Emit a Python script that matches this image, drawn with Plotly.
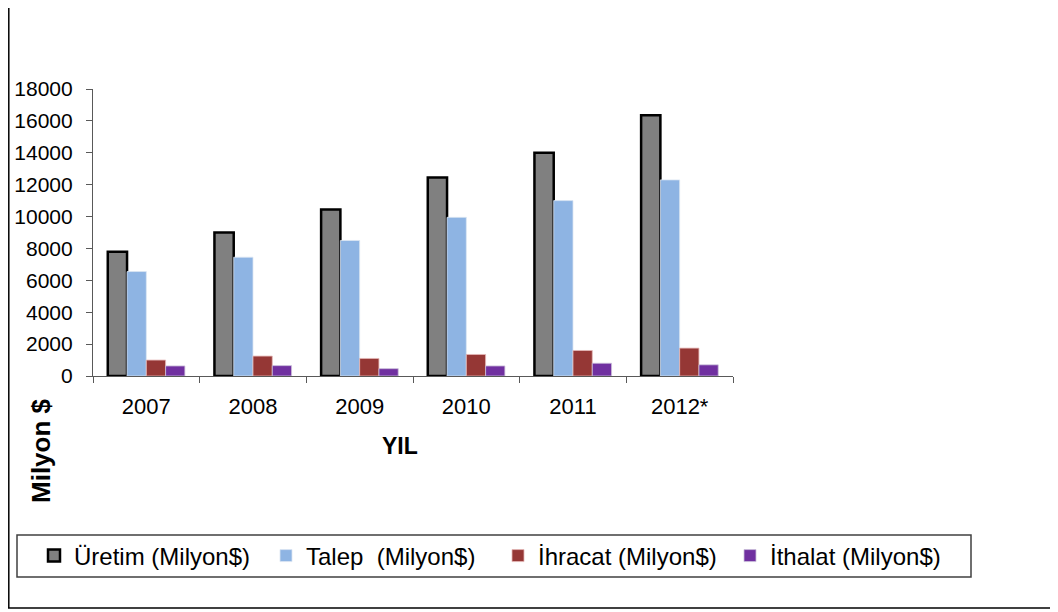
import plotly.graph_objects as go

years = ["2007", "2008", "2009", "2010", "2011", "2012*"]
uretim = [7800, 9000, 10450, 12450, 14000, 16350]
talep = [6550, 7450, 8500, 9950, 11000, 12300]
ihracat = [1000, 1250, 1100, 1350, 1600, 1750]
ithalat = [630, 650, 460, 630, 800, 700]

# page has an 8px body margin; work in page coordinates and convert
OFF = 8
W, H = 1058 - OFF, 612 - OFF
PL, PR, PT, PB = 93, 733, 89, 376          # plot area in page pixels
L, R, T, B = PL - OFF, (1058 - PR), PT - OFF, (612 - PB)
FONT = "Arial, Liberation Sans, sans-serif"

fig = go.Figure()
fig.add_trace(go.Bar(x=years, y=uretim, name="Üretim (Milyon$)",
                     marker=dict(color="#808080", line=dict(color="#000000", width=2.5))))
fig.add_trace(go.Bar(x=years, y=talep, name="Talep\u00a0 (Milyon$)",
                     marker=dict(color="#8EB4E3", line=dict(color="#DCE6F2", width=0.8))))
fig.add_trace(go.Bar(x=years, y=ihracat, name="İhracat (Milyon$)",
                     marker=dict(color="#953735", line=dict(color="#E6B9B8", width=0.8))))
fig.add_trace(go.Bar(x=years, y=ithalat, name="İthalat (Milyon$)",
                     marker=dict(color="#7030A0", line=dict(color="#CCC1DA", width=0.8))))

pw, ph = PR - PL, PB - PT
def px_x(px):
    return (px - PL) / pw
def px_y(py):
    return (PB - py) / ph

shapes = [
    dict(type="line", xref="paper", yref="paper", x0=px_x(8.8), x1=px_x(8.8), y0=px_y(8), y1=px_y(608),
         line=dict(color="#000000", width=1.5)),
    dict(type="line", xref="paper", yref="paper", x0=px_x(8), x1=px_x(1058), y0=px_y(608), y1=px_y(608),
         line=dict(color="#000000", width=1.5)),
    dict(type="rect", xref="paper", yref="paper", x0=px_x(17), x1=px_x(971), y0=px_y(535), y1=px_y(577),
         line=dict(color="#404040", width=1.5)),
]

fig.update_layout(
    width=W, height=H,
    margin=dict(l=L, r=R, t=T, b=B, autoexpand=False),
    paper_bgcolor="white", plot_bgcolor="white",
    barmode="group", bargap=0.277, bargroupgap=0,
    font=dict(family=FONT, color="#000000", size=21),
    showlegend=True,
    legend=dict(orientation="h", xref="paper", yref="paper",
                x=px_x(962), xanchor="right", y=px_y(556), yanchor="middle",
                font=dict(size=24, family=FONT), borderwidth=0, bgcolor="rgba(0,0,0,0)",
                entrywidth=187, entrywidthmode="pixels", traceorder="normal"),
    shapes=shapes,
    xaxis=dict(showline=True, linecolor="#595959", linewidth=1.2, ticks="outside", tickson="boundaries",
               ticklen=6, tickcolor="#595959", showgrid=False, ticklabelstandoff=10,
               tickfont=dict(size=22), fixedrange=True, automargin=False),
    yaxis=dict(range=[0, 18000], dtick=2000, showline=True, linecolor="#595959", linewidth=1.2,
               ticks="outside", ticklen=6, tickcolor="#595959", showgrid=False, zeroline=False,
               ticklabelstandoff=9, tickfont=dict(size=21), tickformat="d", fixedrange=True,
               automargin=False),
    annotations=[
        dict(text="<b>YIL</b>", xref="paper", yref="paper", x=px_x(400), y=px_y(446),
             showarrow=False, font=dict(size=23, family=FONT), xanchor="center", yanchor="middle"),
        dict(text="<b>Milyon $</b>", xref="paper", yref="paper", x=px_x(41), y=px_y(451),
             showarrow=False, textangle=-90, font=dict(size=26, family=FONT),
             xanchor="center", yanchor="middle"),
    ],
)

fig.write_html("out.html")
